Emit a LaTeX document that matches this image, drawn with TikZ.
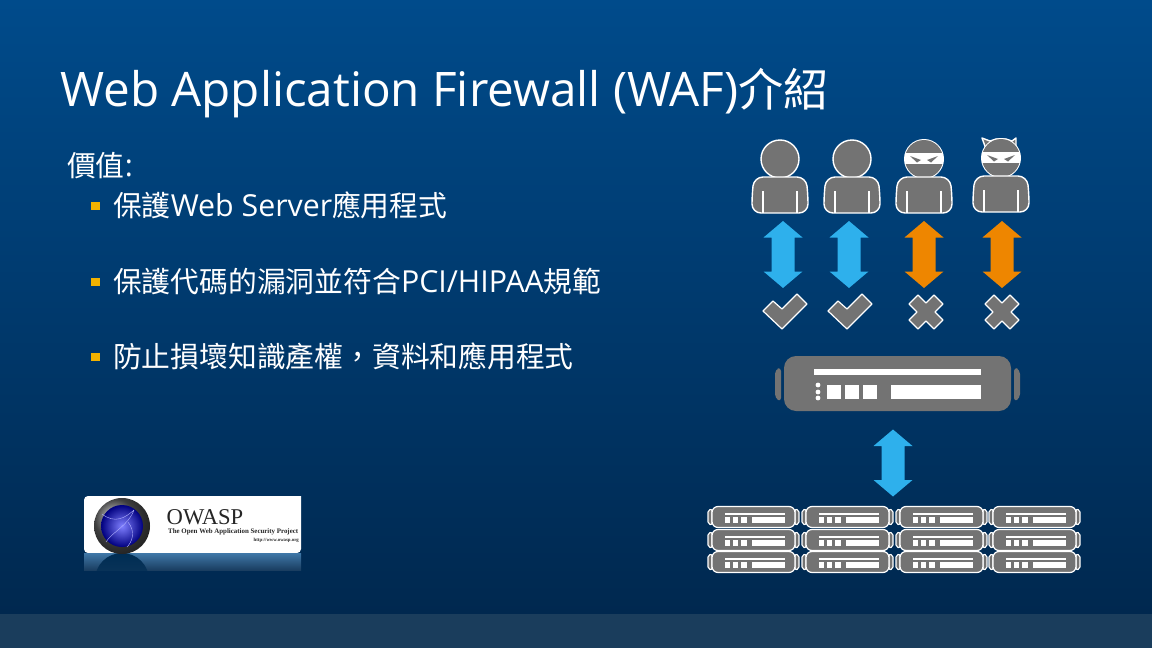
\documentclass[tikz,border=0pt]{standalone}
\usepackage{fontspec}
\setmainfont{Open Sans}
\newfontfamily\cjk[Scale=0.95]{Noto Sans CJK TC}
\newfontfamily\logofont{Liberation Serif}
\usetikzlibrary{arrows.meta,positioning,calc}
\definecolor{slidetop}{HTML}{004B8B}
\definecolor{slidebot}{HTML}{00284F}
\definecolor{slidebar}{HTML}{1A3D5C}
\definecolor{iconblue}{HTML}{2EB0EC}
\definecolor{iconorange}{HTML}{EE8600}
\definecolor{icongrey}{HTML}{737373}
\definecolor{bulletgold}{HTML}{F2B200}

\begin{document}
\begin{tikzpicture}[
x=1pt,y=-1pt,
every node/.style={text=white,inner sep=0pt},
titletext/.style={anchor=base west,font=\fontsize{47.6}{50}\selectfont},
bodytext/.style={anchor=base west,font=\fontsize{30.3}{32}\selectfont},
bullet/.style={fill=bulletgold,draw=none},
outline/.style={fill=icongrey,draw=white,line width=1.4pt,line join=round},
whitebar/.style={fill=white,draw=none},
pics/body/.style={code={
  \path[outline,rounded corners=9pt] (-26,18) -- (26,18) -- (28,36) -- (28,54) -- (-28,54) -- (-28,36) -- cycle;
  \draw[white,line width=1.2pt] (-17,32) -- (-17,54) (17,32) -- (17,54);
}},
pics/user/.style={code={
  \path[outline] (0,0) circle (19);
  \pic {body};
}},
pics/ninja/.style={code={
  \fill[white] (0,0) circle (20);
  \begin{scope}
    \clip (0,0) circle (19);
    \fill[icongrey] (-20,-20) rectangle (20,-6);
    \fill[icongrey] (-20,4.5) rectangle (20,20);
  \end{scope}
  \fill[icongrey] (-14,-3) -- (-3,1) -- (-7,3.5) -- cycle;
  \fill[icongrey] (14,-3) -- (3,1) -- (7,3.5) -- cycle;
  \pic {body};
}},
pics/devil/.style={code={
  \path[outline] (-15,-9) -- (-19,-20) -- (-11,-17) -- (-5,-19) -- (5,-19) -- (11,-17) -- (15,-20) -- (15,-9) -- cycle;
  \pic {ninja};
}},
pics/dblarrow/.style={code={
  \fill[#1] (0,-33.5) -- (19.5,-17) -- (11.5,-17) -- (11.5,17) -- (19.5,17) -- (0,33.5)
    -- (-19.5,17) -- (-11.5,17) -- (-11.5,-17) -- (-19.5,-17) -- cycle;
}},
pics/okmark/.style={code={
  \path[outline,line width=1.2pt] (-22,-1) -- (-12,-11) -- (-3,-3) -- (12,-18) -- (22,-8) -- (-3,17) -- cycle;
}},
pics/xmark/.style={code={
  \path[outline,line width=1.2pt] (-17,-8) -- (-8,-17) -- (0,-9) -- (8,-17) -- (17,-8) -- (9,0)
    -- (17,8) -- (8,17) -- (0,9) -- (-8,17) -- (-17,8) -- (-9,0) -- cycle;
}},
pics/server/.style={code={
  \path[outline,line width=1.1pt,rounded corners=2pt] (-42,-8) -- (-46,-7) -- (-46,7) -- (-42,8) -- cycle;
  \path[outline,line width=1.1pt,rounded corners=2pt] (41,-8) -- (45,-7) -- (45,7) -- (41,8) -- cycle;
  \path[outline,line width=1.2pt,rounded corners=6pt] (-42,-10.5) rectangle (41,10.5);
  \fill[whitebar] (-29,-4) rectangle (31,-1.7);
  \fill[whitebar] (-29,.3) rectangle (-24,6);
  \fill[whitebar] (-21,.3) rectangle (-16,6);
  \fill[whitebar] (-13,.3) rectangle (-7,6);
  \fill[whitebar] (-2,.3) rectangle (31,6);
}}
]
\useasboundingbox (0,0) rectangle (1152,648);
% slide background
\shade[top color=slidetop,bottom color=slidebot] (0,0) rectangle (1152,614);
\fill[slidebar] (0,614) rectangle (1152,648);

% text
\node[titletext] (title) at (60,106) {Web Application Firewall (WAF){\cjk 介紹}};
\node[bodytext] (value) at (67,176) {{\cjk 價值}:};
\fill[bullet] (91,201.5) rectangle (99.5,210);
\node[bodytext] (item1) at (113,216) {{\cjk 保護}Web Server{\cjk 應用程式}};
\fill[bullet] (91,277.5) rectangle (99.5,286);
\node[bodytext] (item2) at (113,292) {{\cjk 保護代碼的漏洞並符合}PCI/HIPAA{\cjk 規範}};
\fill[bullet] (91,352.5) rectangle (99.5,361);
\node[bodytext] (item3) at (113,367) {{\cjk 防止損壞知識產權\symbol{"FF0C}資料和應用程式}};

% users
\pic at (780,159) {user};
\pic at (852,159) {user};
\pic at (924,159) {ninja};
\pic at (1001,158) {devil};
\pic at (783,254.5) {dblarrow=iconblue};
\pic at (849,254.5) {dblarrow=iconblue};
\pic at (924,254.5) {dblarrow=iconorange};
\pic at (1002,254.5) {dblarrow=iconorange};
\pic at (785,312) {okmark};
\pic at (850,312) {okmark};
\pic at (926,312) {xmark};
\pic at (1002,312) {xmark};

% firewall
\fill[icongrey,rounded corners=4pt] (781,367) -- (775,370) -- (775,398) -- (781,402) -- cycle;
\fill[icongrey,rounded corners=4pt] (1014,367) -- (1020,370) -- (1020,398) -- (1014,402) -- cycle;
\fill[icongrey,rounded corners=12pt] (784,356) rectangle (1011,411);
\fill[whitebar] (814,369) rectangle (981,375);
\fill[whitebar] (827,385) rectangle (841,399);
\fill[whitebar] (845,385) rectangle (859,399);
\fill[whitebar] (863,385) rectangle (877,399);
\fill[whitebar] (891,385) rectangle (981,399);
\foreach \dy in {385,392,398} \fill[white] (818,\dy) circle (2.4);
\pic at (893,463) {dblarrow=iconblue};

% server rack
\foreach \cx in {754,848,942,1035}
  \foreach \cy in {517,540,562}
    \pic at (\cx,\cy) {server};

% logo
\fill[white,rounded corners=4pt] (301,496) -- (84,496) -- (84,553) -- (301,553) [sharp corners] -- cycle;
\shade[top color=slidetop!75!white,bottom color=slidebot!90!white] (84,553) rectangle (301,570);
\begin{scope}
  \clip (84,553) rectangle (301,570);
  \shade[top color=slidetop!60!black,bottom color=slidebot!90!white] (122,580) circle (27);
\end{scope}
\shade[ball color=black!65] (122,526) circle (28);
\shade[inner color=blue!50!white,outer color=blue!50!black] (122,526) circle (21);
\draw[white!70!blue,line width=.4pt] (102,514) .. controls (115,524) and (125,518) .. (134,510)
  (134,510) .. controls (128,526) and (112,532) .. (106,542)
  (128,522) .. controls (136,532) and (132,542) .. (127,547);
\node[anchor=base west,text=black!85,font=\logofont\fontsize{22.6}{23}\selectfont] (owasp) at (166.5,524) {OWASP};
\node[anchor=base west,text=black!85,font=\logofont\bfseries\fontsize{6.9}{8}\selectfont] (owaspsub) at (168,533) {The Open Web Application Security Project};
\node[anchor=base east,text=black!85,font=\logofont\bfseries\fontsize{4.8}{6}\selectfont] (owaspurl) at (299,541) {http://www.owasp.org};
\end{tikzpicture}
\end{document}
